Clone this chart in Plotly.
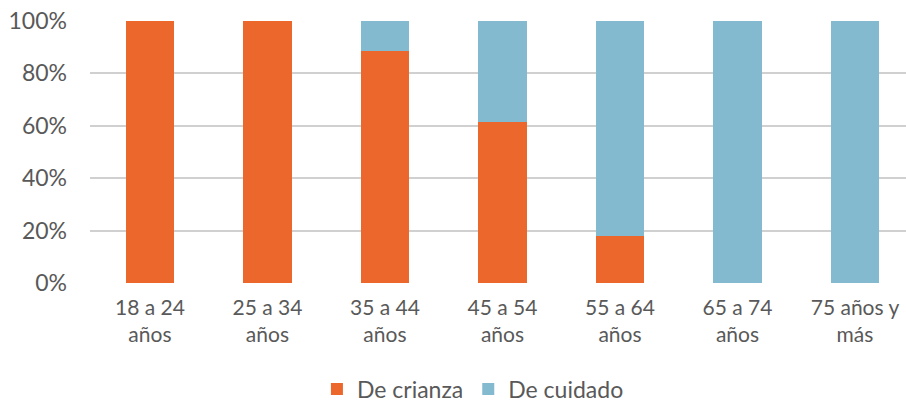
import plotly.graph_objects as go

categories = ["18 a 24<br>años", "25 a 34<br>años", "35 a 44<br>años", "45 a 54<br>años",
              "55 a 64<br>años", "65 a 74<br>años", "75 años y<br>más"]
de_crianza = [100, 100, 88.4, 61.6, 17.9, 0, 0]
de_cuidado = [0, 0, 11.6, 38.4, 82.1, 100, 100]
y_ticks = [0, 20, 40, 60, 80, 100]
y_tick_labels = ["0%", "20%", "40%", "60%", "80%", "100%"]

ORANGE = "#EC672C"
BLUE = "#84BACF"
TEXT = "#595959"
FONT = "Lato"

x_idx = list(range(len(categories)))

fig = go.Figure()
fig.add_trace(go.Bar(x=x_idx, y=de_crianza, name="De crianza",
                     marker=dict(color=ORANGE, line=dict(width=0))))
fig.add_trace(go.Bar(x=x_idx, y=de_cuidado, name="De cuidado",
                     marker=dict(color=BLUE, line=dict(width=0))))

fig.update_layout(
    width=906, height=406,
    barmode="stack", bargap=0.59,
    plot_bgcolor="white", paper_bgcolor="white",
    margin=dict(l=90, r=0, t=21, b=123, autoexpand=False),
    font=dict(family=FONT, size=22, color=TEXT),
    showlegend=True,
    legend=dict(orientation="h", xref="container", yref="paper",
                x=0.522, xanchor="center", y=-0.405, yanchor="middle",
                font=dict(size=23, color=TEXT), traceorder="normal",
                itemwidth=30, tracegroupgap=0),
)
fig.update_xaxes(
    range=[-0.51, 6.434], automargin=False,
    tickmode="array", tickvals=x_idx, ticktext=categories,
    showgrid=False, zeroline=False, showline=False,
    ticks="", ticklabelstandoff=10,
    tickfont=dict(family=FONT, size=21, color=TEXT),
)
fig.update_yaxes(
    range=[0, 100], automargin=False,
    tickmode="array", tickvals=y_ticks, ticktext=y_tick_labels,
    showgrid=True, gridcolor="#D0D0D0", gridwidth=2,
    zeroline=False, showline=False, ticks="",
    ticklabelstandoff=22,
    tickfont=dict(family=FONT, size=23, color=TEXT),
)

fig.write_html(
    "out.html",
    config={"displayModeBar": False},
    post_script="document.body.style.margin='0';document.body.style.overflow='hidden';",
)
